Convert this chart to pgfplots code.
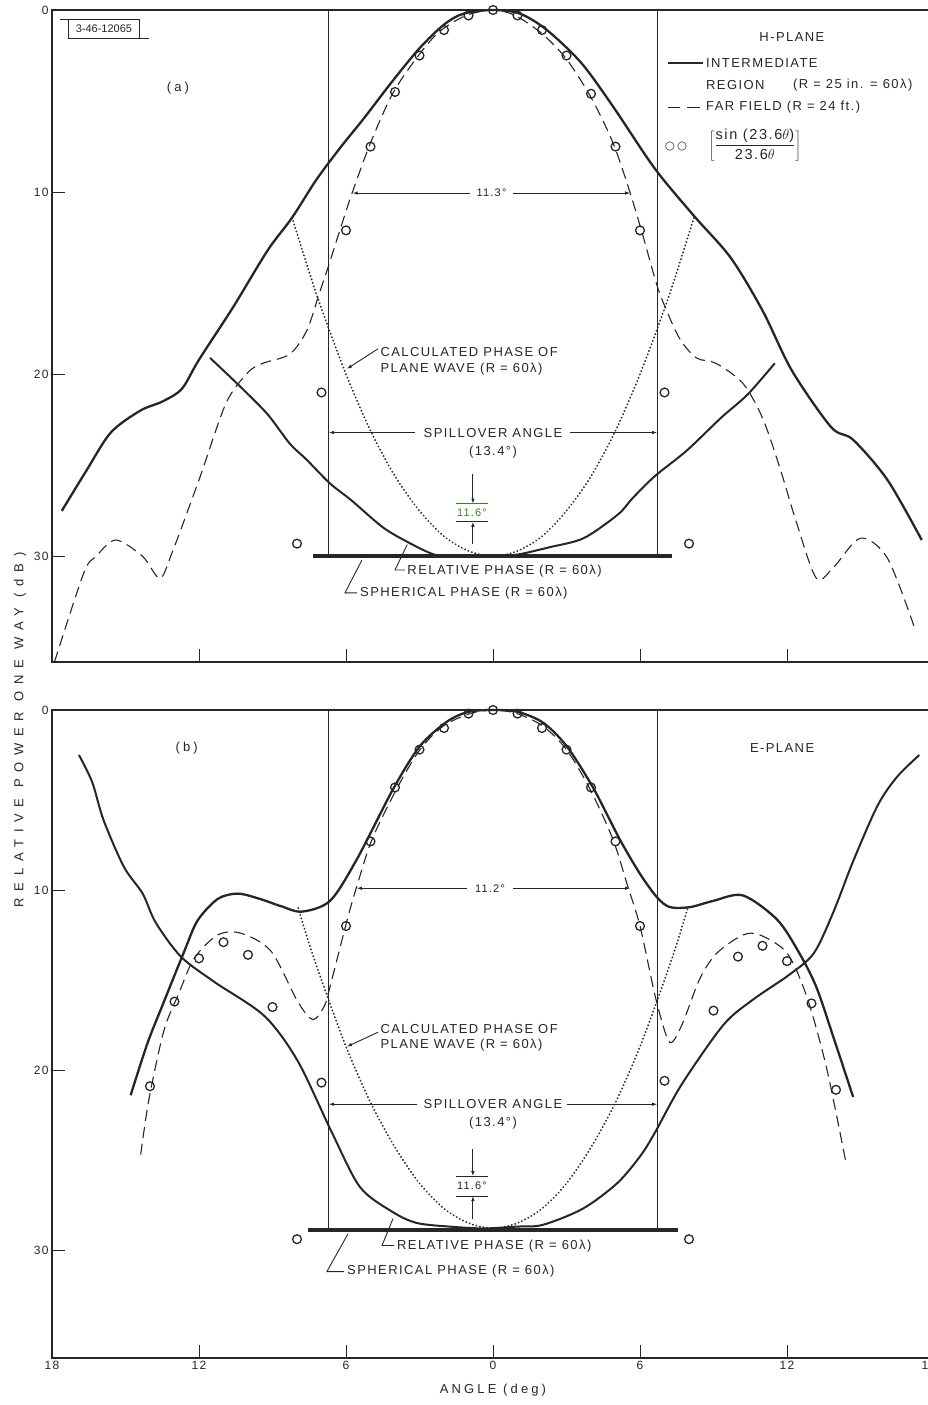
\documentclass[border=0pt]{standalone}
\usepackage{pgfplots}
\pgfplotsset{compat=1.18}
\usepackage{fontspec}
\setmainfont{Liberation Sans}[LetterSpace=11]
\newfontfamily\widefont{Liberation Sans}[LetterSpace=52]
\newfontfamily\midfont{Liberation Sans}[LetterSpace=24]
\newfontfamily\plainfont{Liberation Sans}
\newfontfamily\symfont{DejaVu Sans}
\usetikzlibrary{arrows.meta}

\definecolor{ink}{HTML}{262626}
\definecolor{inkgreen}{HTML}{3F7F2A}

\newcommand\lab{\fontsize{13}{15.5}\selectfont}
\newcommand\smalllab{\fontsize{11}{13}\selectfont}

\tikzset{
  arr/.style={ink, line width=0.9pt, -{Latex[length=5pt,width=3.5pt]}},
  lead/.style={ink, line width=0.9pt},
}

\pgfplotsset{
  panel/.style={
    scale only axis, width=882pt,
    xmin=-18, xmax=18, ymin=0, y dir=reverse,
    axis line style={ink, line width=1.1pt},
    xtick={-18,-12,-6,0,6,12,18}, ytick={0,10,20,30},
    tick pos=left, tick align=inside,
    major tick length=13pt, tick style={ink, line width=1pt},
    yticklabel style={font=\fontsize{12}{14}\selectfont, text=ink},
    xticklabel style={font=\fontsize{12}{14}\selectfont, text=ink},
    /pgf/number format/assume math mode=true,
    clip=false,
    every axis plot/.append style={ink},
  },
  patt/.style={line width=2.3pt, smooth, tension=0.5},
  farfield/.style={line width=1.1pt, smooth, tension=0.5, dash pattern=on 11pt off 6pt},
  phase/.style={line width=2pt, smooth, line cap=round, dash pattern=on 0.1pt off 3.5pt},
  sinc/.style={only marks, mark=o, mark size=4.4pt, mark options={line width=1.3pt, solid}},
  spill/.style={line width=1.2pt},
  sphere/.style={line width=4pt},
}

\begin{document}
\begin{tikzpicture}
\path[use as bounding box] (0pt,0pt) rectangle (927pt,-1405pt);

% ---------------- (a) H-plane ----------------
\begin{axis}[panel, at={(52pt,-10pt)}, anchor=north west,
  height=652pt, ymax=35.8, xticklabels={}]

% spillover angle limits
\addplot[spill] coordinates {(-6.7,0) (-6.7,30)};
\addplot[spill] coordinates {(6.7,0) (6.7,30)};

% intermediate region pattern
\addplot[patt] coordinates {
 (-17.6,27.5) (-16.6,25.3) (-15.6,23.2) (-14.4,22.0) (-13.5,21.5) (-12.7,20.8)
 (-12.0,19.2) (-10.6,16.3) (-9.2,13.2) (-8.2,11.4) (-7.2,9.3) (-6.2,7.5)
 (-5.3,6.0) (-4.1,3.9) (-3.0,2.1) (-2.0,0.8) (-1.2,0.2) (0,0) (1.1,0.2)
 (2.2,1.1) (3.6,2.9) (4.9,5.3) (6.6,8.7) (8.2,11.3) (9.7,13.6) (11.0,16.5)
 (12.2,19.8) (13.8,22.9) (14.7,23.6) (16.1,25.8) (17.5,29.1)};

% far field pattern
\addplot[farfield] coordinates {
 (-17.9,35.8) (-16.7,30.9) (-16.2,30.0) (-15.4,29.1) (-14.3,30.0) (-13.6,31.2)
 (-13.1,29.8) (-12.0,25.8) (-10.9,21.6) (-10.0,19.9) (-9.4,19.4) (-8.3,18.9)
 (-7.6,17.6) (-7.1,15.6) (-6.7,14.0) (-6.3,12.3) (-5.75,10.05) (-5.0,7.3)
 (-4.1,4.6) (-3.1,2.6) (-2.2,1.2) (-1.1,0.3) (0,0) (0.9,0.3) (2.0,1.3)
 (3.0,2.7) (4.0,4.8) (4.9,7.3) (5.6,10.05) (6.1,12.3) (6.6,14.7) (6.9,15.9)
 (7.6,18.0) (8.3,19.1) (9.1,19.4) (10.2,20.5) (11.0,22.4) (11.7,25.1)
 (12.4,28.2) (13.2,31.2) (13.9,30.6) (15.0,29.0) (16.1,30.1) (17.2,33.9)};

% sin(u)/u points
\addplot[sinc] coordinates {
 (-8,29.3) (-7,21.0) (-6,12.1) (-5,7.5) (-4,4.5) (-3,2.5) (-2,1.1) (-1,0.3)
 (0,0) (1,0.3) (2,1.1) (3,2.5) (4,4.6) (5,7.5) (6,12.1) (7,21.0) (8,29.3)};

% calculated phase of plane wave
\addplot[phase] coordinates {
 (-8.2,11.4) (-7.5,14.4) (-7,16.4) (-6,20.0) (-5,23.1) (-4,25.6) (-3,27.5)
 (-2,28.9) (-1,29.7) (0,30) (1,29.7) (2,28.9) (3,27.5) (4,25.6) (5,23.1)
 (6,20.0) (7,16.4) (7.5,14.4) (8.2,11.4)};

% relative phase
\addplot[patt, line width=2pt] coordinates {
 (-11.55,19.1) (-10.3,20.7) (-9.2,22.2) (-8.3,23.8) (-7.6,24.7) (-6.65,26.0)
 (-5.8,26.9) (-4.5,28.4) (-3.5,29.2) (-2.4,29.9) (-1.5,30) (0,30) (1.0,29.9)
 (2.3,29.5) (3.7,29.0) (5.1,27.7) (5.7,26.8) (6.6,25.6) (7.9,24.2) (9.3,22.4)
 (10.4,21.1) (11.5,19.4)};

% spherical phase
\addplot[sphere] coordinates {(-7.35,30) (7.3,30)};

% beamwidth
\draw[arr] (-0.94,10.05) -- (-5.73,10.05);
\draw[arr] (0.82,10.05) -- (5.6,10.05);
\node[font=\smalllab, text=ink] at (-0.06,10.05) {11.3°};

% spillover angle
\draw[arr] (-3.2,23.2) -- (-6.7,23.2);
\draw[arr] (3.15,23.2) -- (6.7,23.2);
\node[font=\lab, text=ink] at (0,23.2) {SPILLOVER ANGLE};
\node[font=\lab, text=ink] at (0,24.25) {(13.4°)};

% 11.6 deg phase difference
\draw[arr] (-0.82,25.5) -- (-0.82,27.1);
\draw[inkgreen, line width=0.9pt] (-1.51,27.1) -- (-0.2,27.1);
\node[font=\smalllab, text=inkgreen] at (-0.86,27.62) {11.6°};
\draw[lead] (-1.51,28.1) -- (-0.2,28.1);
\draw[arr] (-0.82,29.3) -- (-0.82,28.1);

% labels with leaders
\draw[arr] (-4.69,18.6) -- (-5.96,19.7);
\node[font=\lab, text=ink, anchor=west, inner sep=0pt, align=left] at (-4.6,19.3)
  {CALCULATED PHASE OF\\PLANE WAVE (R = 60λ)};
\draw[lead] (-3.6,30.75) -- (-4.0,30.75) -- (-3.5,29.35);
\node[font=\lab, text=ink, anchor=west, inner sep=0pt] at (-3.5,30.8) {RELATIVE PHASE (R = 60λ)};
\draw[lead] (-5.55,32.0) -- (-6.04,32.0) -- (-5.35,30.2);
\node[font=\lab, text=ink, anchor=west, inner sep=0pt] at (-5.43,32.0) {SPHERICAL PHASE (R = 60λ)};

\node[font=\midfont\fontsize{13}{15}\selectfont, text=ink] at (-12.86,4.3) {(a)};

% drawing number
\draw[lead] (-17.67,0.5) -- (-14.45,0.5) -- (-14.45,1.55) -- (-14.04,1.55);
\draw[lead] (-17.31,0.5) -- (-17.31,1.55) -- (-14.45,1.55);
\node[font=\plainfont\fontsize{11}{12}\selectfont, text=ink] at (-15.88,1.02) {3-46-12065};

% key
\node[font=\lab, text=ink] at (12.2,1.5) {H-PLANE};
\draw[ink, line width=2.2pt] (7.14,2.9) -- (8.57,2.9);
\node[font=\lab, text=ink, anchor=west, inner sep=0pt] at (8.69,2.9) {INTERMEDIATE};
\node[font=\lab, text=ink, anchor=west, inner sep=0pt] at (8.69,4.1) {REGION};
\node[font=\lab, text=ink, anchor=west, inner sep=0pt] at (12.24,4.1) {(R = 25 in. = 60λ)};
\draw[ink, line width=1.1pt] (7.14,5.33) -- (7.63,5.33);
\draw[ink, line width=1.1pt] (7.92,5.33) -- (8.45,5.33);
\node[font=\lab, text=ink, anchor=west, inner sep=0pt] at (8.69,5.33) {FAR FIELD (R = 24 ft.)};
\node[font=\symfont\fontsize{11.5}{14}\selectfont, text=ink, inner sep=0pt] at (7.22,7.47) {○};
\node[font=\symfont\fontsize{11.5}{14}\selectfont, text=ink, inner sep=0pt] at (7.72,7.47) {○};
\node[font=\fontsize{14.5}{17}\selectfont, text=ink] at (10.69,7.4)
  {$\displaystyle\left[\frac{\mbox{sin (23.6}\theta\mbox{)}}{\mbox{23.6}\theta}\right]$};
\end{axis}

% ---------------- (b) E-plane ----------------
\begin{axis}[panel, at={(52pt,-710pt)}, anchor=north west,
  height=648pt, ymax=36, xticklabels={18,12,6,0,6,12,\hspace*{-10pt}18}]

\addplot[spill] coordinates {(-6.7,0) (-6.7,28.9)};
\addplot[spill] coordinates {(6.7,0) (6.7,28.9)};

% intermediate region pattern
\addplot[patt] coordinates {
 (-14.79,21.4) (-14.1,18.5) (-13.43,16.2) (-12.6,13.4) (-12.06,11.7) (-11.24,10.5)
 (-10.42,10.2) (-9.5,10.5) (-8.65,10.9) (-7.8,11.2) (-6.65,10.6) (-5.56,8.3)
 (-4.08,4.4) (-2.98,2.0) (-1.88,0.65) (-1.0,0.1) (0,0) (1.0,0.1) (2.04,0.7)
 (3.0,2.0) (4.08,4.3) (5.18,7.2) (6.0,9.1) (6.69,10.4) (7.22,10.95) (8.04,10.95)
 (9.0,10.6) (10.2,10.3) (11.6,11.65) (12.5,13.5) (13.2,15.4) (13.9,18.2) (14.7,21.5)};

% far field pattern
\addplot[farfield] coordinates {
 (-14.38,24.7) (-14.04,21.6) (-13.43,17.8) (-12.81,15.7) (-12.2,13.8) (-11.24,12.5)
 (-10.29,12.4) (-9.06,13.4) (-7.97,16.2) (-7.35,17.2) (-6.87,16.4) (-6.62,15.2)
 (-5.96,11.7) (-5.56,9.8) (-4.94,7.2) (-3.9,4.3) (-2.98,2.2) (-2.04,0.9)
 (-0.94,0.2) (0,0) (0.98,0.2) (2.04,0.9) (3.0,2.2) (3.96,4.4) (4.9,7.2) (5.5,9.8)
 (6.0,12.0) (6.62,15.9) (7.1,18.2) (7.35,18.4) (7.77,17.3) (8.45,14.9) (9.14,13.5)
 (10.2,12.5) (10.9,12.5) (12.0,13.5) (12.8,15.9) (13.6,19.8) (14.4,25.1)};

% sin(u)/u points
\addplot[sinc] coordinates {
 (-14,20.9) (-13,16.2) (-12,13.8) (-11,12.9) (-10,13.6) (-9,16.5) (-8,29.4)
 (-7,20.7) (-6,12.0) (-5,7.3) (-4,4.3) (-3,2.2) (-2,1.0) (-1,0.2) (0,0)
 (1,0.2) (2,1.0) (3,2.2) (4,4.3) (5,7.3) (6,12.0) (7,20.6) (8,29.4)
 (9,16.7) (10,13.7) (11,13.1) (12,13.95) (13,16.3) (14,21.1)};

% calculated phase of plane wave
\addplot[phase] coordinates {
 (-7.95,11.0) (-7.5,13.0) (-7,15.0) (-6,18.7) (-5,21.8) (-4,24.3) (-3,26.3)
 (-2,27.7) (-1,28.5) (0,28.8) (1,28.5) (2,27.7) (3,26.3) (4,24.3) (5,21.8)
 (6,18.7) (7,15.0) (7.5,13.0) (7.95,11.0)};

% relative phase
\addplot[patt, line width=2pt] coordinates {
 (-16.9,2.5) (-16.36,4.0) (-15.9,6.1) (-15.07,8.7) (-14.3,10.2) (-13.77,11.8)
 (-12.74,13.7) (-11.38,15.1) (-9.33,17.0) (-7.97,19.5) (-6.6,23.4) (-5.43,26.5)
 (-4.08,27.9) (-3.1,28.5) (-1.76,28.7) (-0.4,28.8) (0.97,28.7) (2.04,28.6)
 (3.67,27.7) (5.06,26.3) (6.0,24.8) (6.6,23.5) (7.7,20.8) (9.4,17.5) (10.6,16.1)
 (12.1,14.7) (13.1,13.5) (13.9,11.2) (14.7,8.4) (15.7,5.3) (16.5,3.7) (17.4,2.5)};

% spherical phase
\addplot[sphere] coordinates {(-7.55,28.9) (7.55,28.9)};

% beamwidth
\draw[arr] (-1.06,9.9) -- (-5.56,9.9);
\draw[arr] (0.82,9.9) -- (5.6,9.9);
\node[font=\smalllab, text=ink] at (-0.12,9.9) {11.2°};

% spillover angle
\draw[arr] (-3.1,21.9) -- (-6.7,21.9);
\draw[arr] (3.0,21.9) -- (6.7,21.9);
\node[font=\lab, text=ink] at (0,21.9) {SPILLOVER ANGLE};
\node[font=\lab, text=ink] at (0,22.96) {(13.4°)};

% 11.6 deg phase difference
\draw[arr] (-0.82,24.4) -- (-0.82,25.9);
\draw[lead] (-1.51,25.9) -- (-0.2,25.9);
\node[font=\smalllab, text=ink] at (-0.86,26.45) {11.6°};
\draw[lead] (-1.51,27.0) -- (-0.2,27.0);
\draw[arr] (-0.82,28.3) -- (-0.82,27.0);

% labels with leaders
\draw[arr] (-4.69,17.9) -- (-5.96,18.7);
\node[font=\lab, text=ink, anchor=west, inner sep=0pt, align=left] at (-4.6,18.2)
  {CALCULATED PHASE OF\\PLANE WAVE (R = 60λ)};
\draw[lead] (-4.04,29.75) -- (-4.53,29.75) -- (-4.08,28.25);
\node[font=\lab, text=ink, anchor=west, inner sep=0pt] at (-3.92,29.8) {RELATIVE PHASE (R = 60λ)};
\draw[lead] (-6.08,31.2) -- (-6.78,31.2) -- (-5.92,29.1);
\node[font=\lab, text=ink, anchor=west, inner sep=0pt] at (-5.96,31.2) {SPHERICAL PHASE (R = 60λ)};

\node[font=\midfont\fontsize{13}{15}\selectfont, text=ink] at (-12.5,2.1) {(b)};
\node[font=\lab, text=ink] at (11.8,2.1) {E-PLANE};
\end{axis}

% axis titles
\node[rotate=90, font=\widefont\fontsize{13}{15}\selectfont, text=ink] at (20pt,-730pt)
  {RELATIVE POWER ONE WAY (dB)};
\node[font=\midfont\fontsize{13}{15}\selectfont, text=ink] at (493pt,-1390pt) {ANGLE (deg)};
\end{tikzpicture}
\end{document}
